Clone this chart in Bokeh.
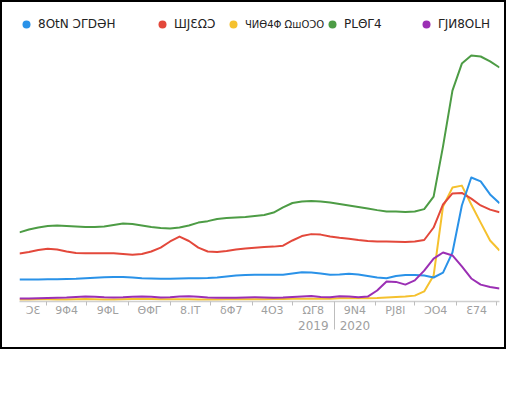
import pandas as pd
from bokeh.plotting import figure
from bokeh.models import (Range1d, FixedTicker, CustomJSTickFormatter, DatetimeAxis,
                          Legend, LegendItem)
from bokeh.embed import file_html
from bokeh.resources import INLINE

# ---------------- data ----------------
week_start = "2019-05-12"
n_weeks = 52

series_names = ["8OtN ƆΓDƏH", "ШJƐΩƆ", "ЧИӨ4Φ ΩшOƆO", "PLΘΓ4", "ΓJИ8OLH"]
series_colors = ["#2a92e8", "#e3483b", "#f5c12e", "#4d9c45", "#9b2fb4"]

blue = [8.6, 8.6, 8.6, 8.7, 8.7, 8.8, 8.9, 9.1, 9.3, 9.5,
        9.6, 9.6, 9.4, 9.1, 9.0, 8.9, 8.9, 9.0, 9.1, 9.1,
        9.2, 9.4, 9.8, 10.2, 10.4, 10.5, 10.5, 10.5, 10.5, 11.0,
        11.5, 11.4, 11.0, 10.5, 10.6, 10.9, 10.6, 10.0, 9.4, 9.1,
        10.0, 10.4, 10.4, 10.2, 9.4, 11.4, 19.6, 38.8, 50.2, 48.6,
        43.3, 39.7]
red = [19.2, 19.8, 20.6, 21.1, 20.8, 20.0, 19.4, 19.3, 19.3, 19.3,
       19.3, 19.0, 18.7, 19.0, 20.0, 21.6, 24.1, 26.1, 24.3, 21.6,
       20.0, 19.8, 20.2, 20.8, 21.2, 21.5, 21.8, 22.0, 22.4, 24.5,
       26.3, 27.1, 26.9, 26.1, 25.6, 25.2, 24.7, 24.3, 24.1, 24.1,
       24.0, 23.9, 24.1, 24.7, 29.8, 39.2, 43.7, 43.9, 41.6, 38.8,
       37.1, 36.0]
yellow = [0.4, 0.4, 0.5, 0.5, 0.4, 0.4, 0.5, 0.6, 0.5, 0.4,
          0.4, 0.5, 0.6, 0.6, 0.6, 0.5, 0.5, 0.5, 0.5, 0.4,
          0.4, 0.4, 0.5, 0.5, 0.5, 0.5, 0.5, 0.6, 0.6, 0.7,
          0.7, 0.7, 0.7, 0.7, 0.9, 0.9, 0.9, 0.9, 1.0, 1.2,
          1.4, 1.6, 2.0, 3.7, 10.2, 38.4, 46.1, 46.9, 39.2, 31.8,
          24.5, 20.4]
green = [27.8, 29.0, 29.8, 30.4, 30.6, 30.4, 30.2, 30.0, 30.0, 30.2,
         30.8, 31.4, 31.2, 30.6, 30.0, 29.6, 29.4, 29.8, 30.6, 31.8,
         32.4, 33.3, 33.7, 33.9, 34.1, 34.5, 34.9, 35.9, 38.0, 39.8,
         40.4, 40.6, 40.4, 40.0, 39.4, 38.8, 38.2, 37.6, 36.9, 36.3,
         36.3, 36.1, 36.3, 37.3, 42.4, 62.9, 85.7, 96.7, 100.0, 99.6,
         97.6, 95.1]
purple = [0.8, 0.8, 0.9, 1.0, 1.1, 1.2, 1.4, 1.6, 1.5, 1.3,
          1.2, 1.3, 1.5, 1.6, 1.5, 1.2, 1.3, 1.6, 1.7, 1.5,
          1.2, 1.1, 1.1, 1.1, 1.2, 1.3, 1.2, 1.1, 1.2, 1.4,
          1.6, 1.8, 1.4, 1.3, 1.7, 1.6, 1.3, 1.6, 4.1, 7.8,
          7.6, 6.5, 8.2, 12.2, 17.1, 19.6, 18.4, 13.9, 9.0, 6.5,
          5.5, 4.9]

month_starts = ["2019-05-01", "2019-06-01", "2019-07-01", "2019-08-01", "2019-09-01",
                "2019-10-01", "2019-11-01", "2019-12-01", "2020-01-01", "2020-02-01",
                "2020-03-01", "2020-04-01", "2020-05-01"]
month_labels = ["ƆƐ", "9Φ4", "9ΦL", "ΘΦΓ", "8.lT", "δΦ7", "4O3", "ΩΓ8", "9N4", "PJ8l", "ƆO4", "Ɛ74"]
year_labels = ["2019", "2020"]
year_months = ["2019-12-01", "2020-01-01"]   # months under which the years are written
year_break = "2020-01-01"

# ---------------- helpers ----------------
weeks = pd.date_range(week_start, periods=n_weeks, freq="7D")
x0, x1 = weeks[0], weeks[-1]


def ms(t):
    return float(pd.Timestamp(t).value // 10**6)


starts = [pd.Timestamp(s) for s in month_starts]
label_ticks, label_texts = [], []
for i, name in enumerate(month_labels):
    a = max(starts[i], x0)
    b = min(starts[i + 1], x1)
    label_ticks.append(ms(a + (b - a) / 2))
    label_texts.append(name)
boundary_ticks = [ms(s) for s in starts if x0 < s < x1]

year_ticks = []
for ym in year_months:
    i = month_starts.index(ym)
    year_ticks.append(ms(starts[i] + (starts[i + 1] - starts[i]) / 2))

LOOKUP = """
    for (let i = 0; i < tvals.length; i++) {
        if (Math.abs(tvals[i] - tick) < 1) return tlabels[i];
    }
    return "";
"""

# ---------------- figure ----------------
p = figure(width=506, height=349, x_axis_type="datetime",
           output_backend="svg", toolbar_location=None,
           x_range=Range1d(x0, x1), y_range=Range1d(-0.4, 119.6),
           min_border=0, min_border_left=17, min_border_right=9,
           min_border_top=5, min_border_bottom=50)
p.styles = {"border": "2px solid black"}
p.outline_line_color = None
p.background_fill_color = "white"
p.border_fill_color = "white"
p.xgrid.visible = False
p.ygrid.visible = False
p.yaxis.visible = False

series = [blue, red, yellow, green, purple]
draw_order = [2, 3, 1, 0, 4]
dots = {}
for k in draw_order:
    p.line(weeks, series[k], line_color=series_colors[k], line_width=2, line_join="round")
for k in range(5):
    dots[k] = p.scatter(weeks, series[k], size=0, fill_color=series_colors[k], line_color=None)

# month axis
xa = p.xaxis[0]
xa.ticker = FixedTicker(ticks=label_ticks, minor_ticks=boundary_ticks)
xa.formatter = CustomJSTickFormatter(args=dict(tvals=label_ticks, tlabels=label_texts), code=LOOKUP)
xa.axis_line_color = "#cfcfcf"
xa.axis_line_width = 1.5
xa.major_tick_line_color = None
xa.major_tick_out = 0
xa.major_tick_in = 0
xa.minor_tick_line_color = "#bdbdbd"
xa.minor_tick_line_width = 1
xa.minor_tick_out = 4
xa.minor_tick_in = 0
xa.major_label_standoff = -2
xa.major_label_text_font = "DejaVu Sans"
xa.major_label_text_font_size = "11px"
xa.major_label_text_color = "#a0a0a0"

# year axis
ya = DatetimeAxis(ticker=FixedTicker(ticks=year_ticks, minor_ticks=[ms(year_break)]))
ya.formatter = CustomJSTickFormatter(args=dict(tvals=year_ticks, tlabels=year_labels), code=LOOKUP)
ya.axis_line_color = None
ya.major_tick_line_color = None
ya.major_tick_out = 0
ya.major_tick_in = 0
ya.minor_tick_line_color = "#bdbdbd"
ya.minor_tick_line_width = 1
ya.minor_tick_in = 16
ya.minor_tick_out = 10
ya.major_label_standoff = -9
ya.major_label_text_font = "DejaVu Sans"
ya.major_label_text_font_size = "12px"
ya.major_label_text_color = "#a0a0a0"
p.add_layout(ya, "below")

# legends (one per entry so they sit where the reference places them)
legend_x = [-3, 133, 204, 303, 397]
legend_fs = ["12px", "12px", "10px", "12px", "12px"]
for k in range(5):
    lg = Legend(items=[LegendItem(label=series_names[k], renderers=[dots[k]])],
                location=(legend_x[k], 267), orientation="horizontal",
                glyph_width=20, glyph_height=20, label_height=20, label_standoff=2,
                padding=0, margin=0, spacing=0,
                border_line_color=None, background_fill_alpha=0,
                label_text_font="DejaVu Sans", label_text_font_size=legend_fs[k],
                label_text_color="#222222")
    p.add_layout(lg)

open("out.html", "w").write(file_html(p, INLINE))
